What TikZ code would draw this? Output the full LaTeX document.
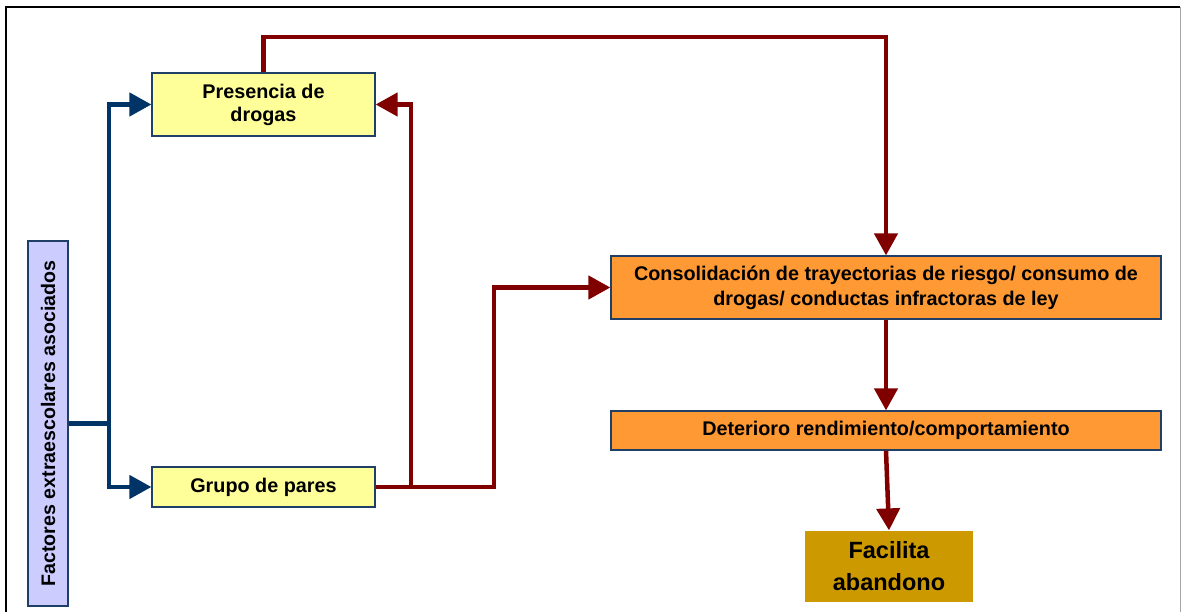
\documentclass[tikz,border=0pt]{standalone}
\usepackage{fontspec}
\setmainfont{Liberation Sans}
\usetikzlibrary{arrows.meta}
\definecolor{yel}{HTML}{FFFF99}
\definecolor{lav}{HTML}{CCCCFF}
\definecolor{ora}{HTML}{FF9933}
\definecolor{gold}{HTML}{CC9900}
\definecolor{navy}{HTML}{003366}
\definecolor{bord}{HTML}{1F3F66}
\definecolor{dred}{HTML}{800000}
\tikzset{
  box/.style={draw=bord, line width=1.2pt, inner sep=0pt, align=center, font=\bfseries},
  bl/.style={draw=navy, line width=4.5pt},
  rd/.style={draw=dred, line width=4.5pt},
  tip/.style={-{Triangle[length=22pt,width=23pt]}},
}
\begin{document}
\begin{tikzpicture}[x=1pt,y=-1pt]
\useasboundingbox (0,0) rectangle (1181,612);
% frame
\draw[black, line width=2pt] (6,613) -- (6,7) -- (1180,7);
\draw[gray!70, line width=1pt] (1180,7) -- (1180,613);
% nodes
\node[box, fill=yel, minimum width=223pt, minimum height=63pt,
      font=\bfseries\fontsize{19.8}{23}\selectfont] (pres) at (263.5,104.5) {Presencia de\\drogas};
\node[box, fill=yel, minimum width=223pt, minimum height=40pt,
      font=\bfseries\fontsize{19.8}{23}\selectfont] (grupo) at (263.5,487) {Grupo de pares};
\node[box, fill=lav, minimum width=365pt, minimum height=40pt, rotate=90,
      font=\bfseries\fontsize{19.6}{23}\selectfont] (fac) at (48,423.5) {Factores extraescolares asociados};
\node[box, fill=ora, minimum width=550pt, minimum height=63pt,
      font=\bfseries\fontsize{19.8}{25}\selectfont] (cons) at (886,287.5) {Consolidación de trayectorias de riesgo/ consumo de\\drogas/ conductas infractoras de ley};
\node[box, fill=ora, minimum width=550pt, minimum height=39pt,
      font=\bfseries\fontsize{19.8}{25}\selectfont] (det) at (886,430.5) {Deterioro rendimiento/comportamiento};
\node[box, draw=none, fill=gold, minimum width=168pt, minimum height=71pt,
      font=\bfseries\fontsize{23.5}{32}\selectfont] (facil) at (889,566.5) {Facilita\\abandono};
% blue connectors
\coordinate (j) at (109,423.5);
\draw[bl] (fac.south) -- (j);
\draw[bl, tip] (j) |- (pres.west);
\draw[bl, tip] (j) |- (grupo.west);
% red connectors
\coordinate (t) at (263.5,37);
\draw[rd, tip] (pres.north) -- (t) -| (cons.north);
\coordinate (k) at (411,487);
\coordinate (m) at (494,487);
\draw[rd] (grupo.east) -- (k);
\draw[rd, tip] (k) |- (pres.east);
\draw[rd, tip] (k) -- (m) |- (cons.west);
\draw[rd, tip] (cons.south) -- (det.north);
\draw[rd, tip] (det.south) -- (facil.north);
\end{tikzpicture}
\end{document}
